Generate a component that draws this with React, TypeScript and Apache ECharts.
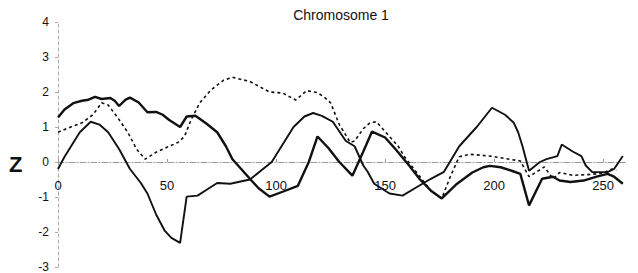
import React, { useEffect, useRef } from "react";
import * as echarts from "echarts";

const titleText = "Chromosome 1";
const yAxisName = "Z";

const seriesAX = [0,3,7,11,14,17,20,24,26,28,31,33,37,41,45,48,51,56,59,63,68,73,77,80,84,88,92,97,103,110,115,119,124,129,135,140,144,150,155,161,166,171,176,183,190,195,198,203,208,212,216,222,227,230,235,241,247,252,255,259];
const seriesAY = [1.27,1.5,1.68,1.75,1.78,1.86,1.8,1.83,1.75,1.6,1.78,1.84,1.7,1.42,1.43,1.35,1.2,1.0,1.3,1.32,1.1,0.85,0.45,0.08,-0.2,-0.48,-0.75,-0.99,-0.85,-0.68,0.0,0.73,0.4,0.0,-0.39,0.3,0.87,0.7,0.35,-0.1,-0.5,-0.82,-1.04,-0.62,-0.3,-0.15,-0.11,-0.15,-0.25,-0.34,-1.24,-0.48,-0.42,-0.53,-0.57,-0.53,-0.42,-0.34,-0.42,-0.62];

const seriesBX = [0,5,11,16,20,23,27,32,36,40,45,50,55,58,61,65,70,76,80,88,97,103,109,114,119,122,125,129,134,136,140,143,146,151,156,159,162,167,171,176,180,184,189,198,205,212,216,223,227,230,236,243,250,254,256];
const seriesBY = [0.85,0.98,1.12,1.35,1.69,1.63,1.3,0.85,0.37,0.08,0.28,0.42,0.56,0.73,1.2,1.69,2.05,2.34,2.42,2.3,2.0,1.97,1.77,2.04,1.98,1.86,1.69,1.07,0.56,0.6,0.95,1.12,1.15,0.8,0.45,0.14,-0.1,-0.5,-0.82,-1.04,-0.4,0.15,0.22,0.17,0.1,0.03,-0.42,-0.14,-0.48,-0.3,-0.38,-0.36,-0.32,-0.2,-0.24];

const seriesCX = [0,3,6,10,15,19,23,28,33,38,41,45,49,52,56,59,64,68,73,79,88,93,98,103,108,113,117,121,126,132,136,140,142,145,152,158,165,171,177,184,192,199,205,209,211,213,216,221,224,229,231,236,240,242,245,252,255,259];
const seriesCY = [-0.2,0.15,0.45,0.85,1.15,1.07,0.85,0.37,-0.2,-0.6,-0.9,-1.5,-1.97,-2.17,-2.31,-0.99,-0.96,-0.8,-0.6,-0.62,-0.5,-0.25,0.0,0.5,1.0,1.3,1.4,1.32,1.15,0.6,0.45,-0.1,-0.28,-0.62,-0.9,-0.96,-0.7,-0.48,-0.28,0.45,1.0,1.55,1.35,1.12,0.85,0.45,-0.25,0.0,0.08,0.17,0.5,0.3,0.17,-0.1,-0.29,-0.29,-0.2,0.17];

const xMin = 0;
const xMax = 260;
const xInterval = 50;
const yMin = -3;
const yMax = 4;
const yInterval = 1;

function pairs(xs: number[], ys: number[]) {
  return xs.map((x, i) => [x, ys[i]]);
}

export default function App() {
  const ref = useRef<HTMLDivElement>(null);
  useEffect(() => {
    if (!ref.current) return;
    const chart = echarts.init(ref.current, undefined, { renderer: "svg" });
    const font = "Arial, 'Liberation Sans', sans-serif";
    const gridTop = 22;
    const gridBottom = 6;
    const gridHeight = 273 - gridTop - gridBottom;
    const zeroOffset = -gridHeight * (0 - yMin) / (yMax - yMin);
    chart.setOption({
      animation: false,
      backgroundColor: "#ffffff",
      title: {
        text: titleText,
        left: 336,
        top: 3,
        textAlign: "center",
        textStyle: { fontSize: 14, fontWeight: "normal", color: "#111", fontFamily: font },
      },
      graphic: [
        {
          type: "text",
          x: 9,
          y: 164,
          style: {
            text: yAxisName,
            font: "bold 22px Arial, 'Liberation Sans', sans-serif",
            fill: "#111",
            verticalAlign: "middle",
          },
        },
      ],
      grid: { left: 58, right: 13, top: gridTop, bottom: gridBottom, containLabel: false },
      xAxis: {
        type: "value",
        position: "bottom",
        offset: zeroOffset,
        min: xMin,
        max: xMax,
        interval: xInterval,
        axisLine: { onZero: false, lineStyle: { color: "#999", width: 1, type: [6, 2, 1, 2] } },
        axisTick: { show: true, inside: true, length: 3, lineStyle: { color: "#999" } },
        axisLabel: { showMaxLabel: false, margin: 17, fontSize: 13, color: "#111", fontFamily: font },
        splitLine: { show: false },
      },
      yAxis: {
        type: "value",
        min: yMin,
        max: yMax,
        interval: yInterval,
        axisLine: { show: true, lineStyle: { color: "#aaa", width: 1, type: [3, 3] } },
        axisTick: { show: true, length: 3, lineStyle: { color: "#aaa" } },
        axisLabel: { margin: 9, fontSize: 12, color: "#111", fontFamily: font },
        splitLine: { show: false },
      },
      series: [
        {
          type: "line",
          data: pairs(seriesAX, seriesAY),
          showSymbol: false,
          lineStyle: { color: "#111", width: 2.4 },
          z: 3,
        },
        {
          type: "line",
          data: pairs(seriesBX, seriesBY),
          showSymbol: false,
          lineStyle: { color: "#111", width: 1.6, type: [3, 3] },
          z: 2,
        },
        {
          type: "line",
          data: pairs(seriesCX, seriesCY),
          showSymbol: false,
          lineStyle: { color: "#111", width: 1.9 },
          z: 2,
        },
      ],
    });
    return () => chart.dispose();
  }, []);
  return (
    <div
      ref={ref}
      style={{ position: "fixed", left: 0, top: 0, width: 638, height: 273 }}
    />
  );
}
